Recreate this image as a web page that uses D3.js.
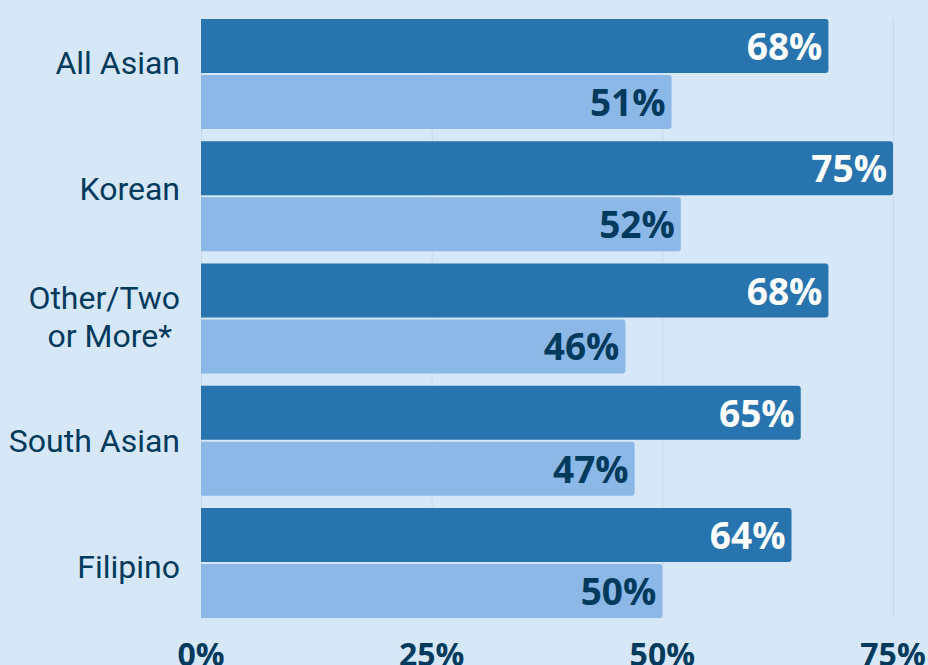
<!DOCTYPE html>
<html><head><meta charset="utf-8">
<script src="https://cdn.jsdelivr.net/npm/d3@7"></script>
<style>
html,body{margin:0;padding:0;background:#d6e7f8;}
svg{display:block;}
</style></head>
<body>
<svg id="chart" width="928" height="665"></svg>
<script>
const categories = [["All Asian"], ["Korean"], ["Other/Two", "or More*"], ["South Asian"], ["Filipino"]];
const seriesA = [68, 75, 68, 65, 64];
const seriesB = [51, 52, 46, 47, 50];
const tickValues = [0, 25, 50, 75];
const tickLabels = ["0%", "25%", "50%", "75%"];

const svg = d3.select("#chart");
const W = 928, H = 665;
svg.append("rect").attr("width", W).attr("height", H).attr("fill", "#d6e7f8");

const x = d3.scaleLinear().domain([0, 75]).range([201, 893]);
const y = d3.scaleBand().domain(d3.range(categories.length)).range([13, 624]).paddingInner(0.1).paddingOuter(0.05);
const yLab = d3.scaleBand().domain(d3.range(categories.length)).range([0, 630]);
const barH = (y.bandwidth() - 2) / 2;

// gridlines
svg.append("g").selectAll("line").data(tickValues).join("line")
  .attr("x1", d => x(d) + 0.5).attr("x2", d => x(d) + 0.5)
  .attr("y1", y(0)).attr("y2", y(categories.length - 1) + y.bandwidth())
  .attr("stroke", "#c7d8ec").attr("stroke-width", 1);

function barPath(x0, x1, y0, h, r) {
  return `M${x0},${y0}H${x1 - r}Q${x1},${y0} ${x1},${y0 + r}V${y0 + h - r}Q${x1},${y0 + h} ${x1 - r},${y0 + h}H${x0}Z`;
}

const rows = categories.map((c, i) => ({ i, c, a: seriesA[i], b: seriesB[i] }));
const g = svg.append("g");

rows.forEach(r => {
  const y0 = y(r.i);
  g.append("path").attr("d", barPath(x(0), x(r.a), y0, barH, 3)).attr("fill", "#2774ae");
  g.append("path").attr("d", barPath(x(0), x(r.b), y0 + barH + 2, barH, 3)).attr("fill", "#8cb8e8");
  g.append("text").attr("x", x(r.a) - 6).attr("y", y0 + barH / 2 + 14)
    .attr("text-anchor", "end").attr("font-family", "Open Sans").attr("font-weight", 700)
    .attr("font-size", 37).attr("fill", "#ffffff").text(r.a + "%");
  g.append("text").attr("x", x(r.b) - 6).attr("y", y0 + barH + 2 + barH / 2 + 14)
    .attr("text-anchor", "end").attr("font-family", "Open Sans").attr("font-weight", 700)
    .attr("font-size", 37).attr("fill", "#003a5d").text(r.b + "%");
  // category label
  const cy = yLab(r.i) + yLab.bandwidth() / 2;
  const n = r.c.length, lh = 38;
  const t = g.append("text").attr("text-anchor", "end").attr("font-family", "Roboto")
    .attr("font-size", 32).attr("fill", "#003a5d");
  r.c.forEach((line, k) => {
    t.append("tspan").attr("x", n > 1 && k > 0 ? 172 : 180)
      .attr("y", cy + 11 + (n > 1 ? 2 : 0) + (k - (n - 1) / 2) * lh).text(line);
  });
});

// x-axis tick labels
svg.append("g").selectAll("text").data(tickValues).join("text")
  .attr("x", d => x(d)).attr("y", 666)
  .attr("text-anchor", "middle").attr("font-family", "Open Sans").attr("font-weight", 700)
  .attr("font-size", 32).attr("fill", "#003a5d")
  .text((d, i) => tickLabels[i]);
</script>
</body></html>
